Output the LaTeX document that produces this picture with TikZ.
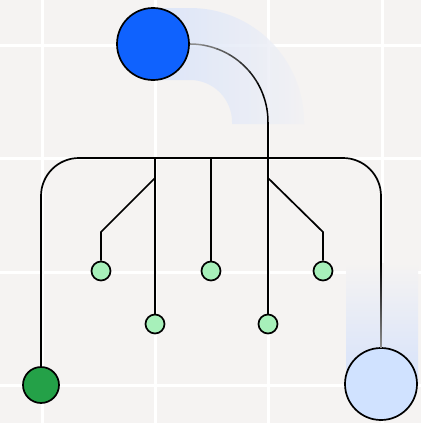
\documentclass[tikz,border=0pt]{standalone}
\usetikzlibrary{calc}
\definecolor{bg}{RGB}{245,243,242}
\definecolor{ibmblue}{HTML}{0F62FE}
\definecolor{lightblue}{HTML}{D0E2FF}
\definecolor{bandblue}{HTML}{D6E2FB}
\definecolor{bandend}{HTML}{F1F1F4}
\definecolor{darkgreen}{HTML}{24A148}
\definecolor{mint}{HTML}{A7F0BA}
\tikzset{
  gridline/.style={white,line width=3pt},
  wire/.style={black,line width=1.7pt},
  dot/.style={circle,draw=black,line width=1.7pt,inner sep=0pt,minimum size=#1},
}
\begin{document}
\begin{tikzpicture}[x=1pt,y=-1pt]
\fill[bg] (0,0) rectangle (421,423);
\useasboundingbox (0,0) rectangle (421,423);
% grid
\foreach \gx in {42,155,268,382} \draw[gridline] (\gx,0) -- (\gx,423);
\foreach \gy in {45,158,272,385} \draw[gridline] (0,\gy) -- (421,\gy);
% bands
\shade[left color=bandblue,right color=bandend,opacity=0.8] (153,8) -- (190,8) arc[start angle=-90,end angle=0,radius=114] -- (304,124) -- (232,124) -- (232,122) arc[start angle=0,end angle=-90,radius=42] -- (153,80) -- cycle;
\shade[top color=bg,bottom color=bandblue] (346,263) rectangle (418,384);
% nodes
\node[dot=72pt,fill=ibmblue] (top) at (153,44) {};
\node[dot=72pt,fill=lightblue] (lb) at (381,384) {};
\node[dot=36pt,fill=darkgreen] (gr) at (41,385) {};
\node[dot=19pt,fill=mint] (s1) at (101,271) {};
\node[dot=19pt,fill=mint] (s2) at (155,324) {};
\node[dot=19pt,fill=mint] (s3) at (211,271) {};
\node[dot=19pt,fill=mint] (s4) at (268,324) {};
\node[dot=19pt,fill=mint] (s5) at (323,271) {};
\coordinate (arcend) at (268,122);
\coordinate (fadeR) at (381,263);
% top curve with gradient
\draw[line width=1.4pt,black!45] (top.east) -- (190,44);
\foreach \i in {0,...,8}{
  \pgfmathsetmacro{\a}{-90+10*\i}
  \pgfmathsetmacro{\c}{min(100,45+9*\i)}
  \draw[line width=1.5pt,draw=black!\c] (190,122) ++(\a:78) arc[start angle=\a,end angle=\a+10.5,radius=78];
}
% tree
\draw[wire,rounded corners=38pt] (gr.north) -- (41,158) -- (381,158) -- (fadeR);
\shade[top color=black,bottom color=black!45] ($(fadeR)+(-0.8,0)$) rectangle ($(lb.north)+(0.8,0)$);
\draw[wire] (arcend) -- (s4.north);
\draw[wire] (155,158) -- (s2.north);
\draw[wire] (211,158) -- (s3.north);
\draw[wire] (155,178) -- (101,232) -- (s1.north);
\draw[wire] (268,178) -- (323,232) -- (s5.north);
\end{tikzpicture}
\end{document}
